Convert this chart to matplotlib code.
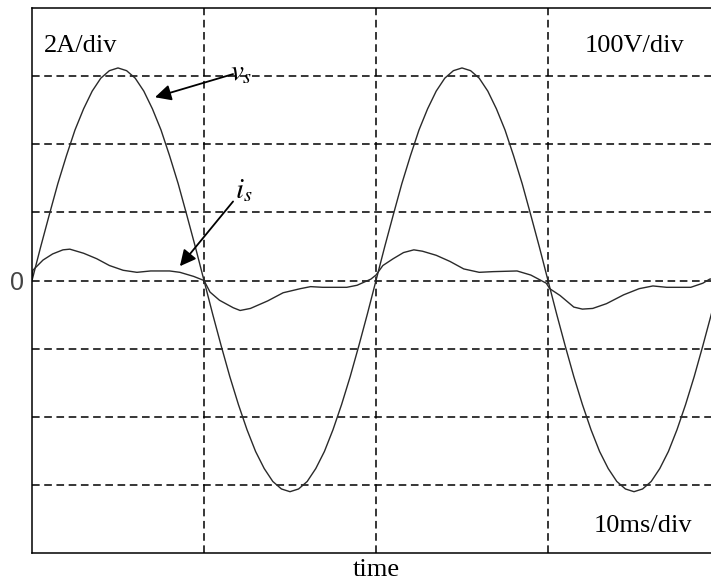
"""
Source voltage and current waveforms, scope-style (div units).
"""
import numpy as np
import matplotlib.pyplot as plt
import matplotlib as mpl

mpl.rcParams.update({
    "font.family": "serif",
    "font.serif": ["Liberation Serif", "DejaVu Serif"],
    "mathtext.fontset": "stix",
    "savefig.dpi": 100,
})

# scope scales
V_PER_DIV = 100.0   # V/div
A_PER_DIV = 2.0     # A/div

# source voltage v_s (V), read every 0.5 ms
t_v = np.arange(0, 40.5, 0.5)
v_s = [0, 49, 96, 142, 183, 221, 252, 278, 297, 308,
       312, 308, 297, 278, 252, 221, 183, 142, 96, 49,
       0, -49, -96, -141, -182, -219, -251, -276, -295, -306,
       -310, -306, -295, -276, -251, -219, -182, -141, -96, -49,
       0, 49, 96, 142, 183, 221, 252, 278, 297, 308,
       312, 308, 297, 278, 252, 221, 183, 142, 96, 49,
       0, -49, -96, -141, -182, -219, -251, -276, -295, -306,
       -310, -306, -295, -276, -251, -219, -182, -141, -96, -49,
       0]

# source current i_s (A)
t_i = [0, 0.05, 0.64, 1.2, 1.8, 2.2, 3.0, 3.76, 4.5, 5.3, 6.1, 6.9, 8.0, 8.6, 9.4, 10.0,
       10.35, 10.9, 11.7, 12.1, 12.7, 13.7, 14.6, 15.6, 16.2, 16.9, 18.3, 18.9, 19.7,
       20.0, 20.4, 21.0, 21.6, 22.2, 22.7, 23.5, 24.3, 25.1, 26.0, 26.8, 28.2, 29.0, 29.9,
       30.1, 30.7, 31.5, 32.0, 32.6, 33.4, 34.4, 35.3, 36.1, 36.9, 38.3, 39.0, 39.4, 40.0]
i_s = [0.06, 0.30, 0.60, 0.78, 0.90, 0.92, 0.80, 0.64, 0.44, 0.30, 0.24, 0.28, 0.28, 0.24, 0.12, 0.0,
       -0.34, -0.58, -0.80, -0.88, -0.82, -0.60, -0.36, -0.24, -0.18, -0.20, -0.20, -0.14, 0.04,
       0.16, 0.44, 0.64, 0.82, 0.90, 0.86, 0.74, 0.56, 0.34, 0.24, 0.26, 0.28, 0.16, -0.08,
       -0.24, -0.44, -0.78, -0.84, -0.82, -0.68, -0.42, -0.24, -0.16, -0.20, -0.20, -0.08, 0.04, 0.08]

fig = plt.figure(figsize=(7.11, 5.88))
# axes run past the right edge of the picture (cropped scope screen)
ax = fig.add_axes([32 / 711, 35 / 588, 688 / 711, 545 / 588])

trace = dict(color="#2a2a2a", lw=1.0)
ax.plot(t_v, np.array(v_s) / V_PER_DIV, **trace)
ax.plot(t_i, np.array(i_s) / A_PER_DIV, **trace)

ax.set_xlim(0, 40)
ax.set_ylim(-4, 4)
ax.set_xticks([10, 20, 30])
ax.set_yticks([-3, -2, -1, 0, 1, 2, 3])
ax.grid(True, color="k", lw=1.1, linestyle=(0, (5.0, 3.0)))
ax.tick_params(length=0, labelbottom=False)
ax.set_yticklabels(["", "", "", "0", "", "", ""],
                   fontsize=18, family="Liberation Sans", color="#444444")
ax.tick_params(axis="y", pad=6)
for s in ax.spines.values():
    s.set_linewidth(1.1)

ax.set_xlabel("time", fontsize=19, labelpad=4)

txt = dict(fontsize=19, va="baseline")
ax.text(0.7, 3.35, "2A/div", ha="left", **txt)
ax.text(35.06, 3.35, "100V/div", ha="center", **txt)
ax.text(35.5, -3.69, "10ms/div", ha="center", **txt)

arrow = dict(arrowstyle="-|>", color="k", lw=1.3, mutation_scale=24,
             shrinkA=0, shrinkB=0)
ax.annotate("", xy=(7.15, 2.69), xytext=(11.69, 3.03), arrowprops=arrow)
ax.annotate("", xy=(8.6, 0.21), xytext=(11.69, 1.16), arrowprops=arrow)
ax.text(11.5, 2.94, "$v_s$", fontsize=21, ha="left", va="baseline")
ax.text(11.8, 1.21, "$i_s$", fontsize=21, ha="left", va="baseline")

fig.savefig("out.png")
